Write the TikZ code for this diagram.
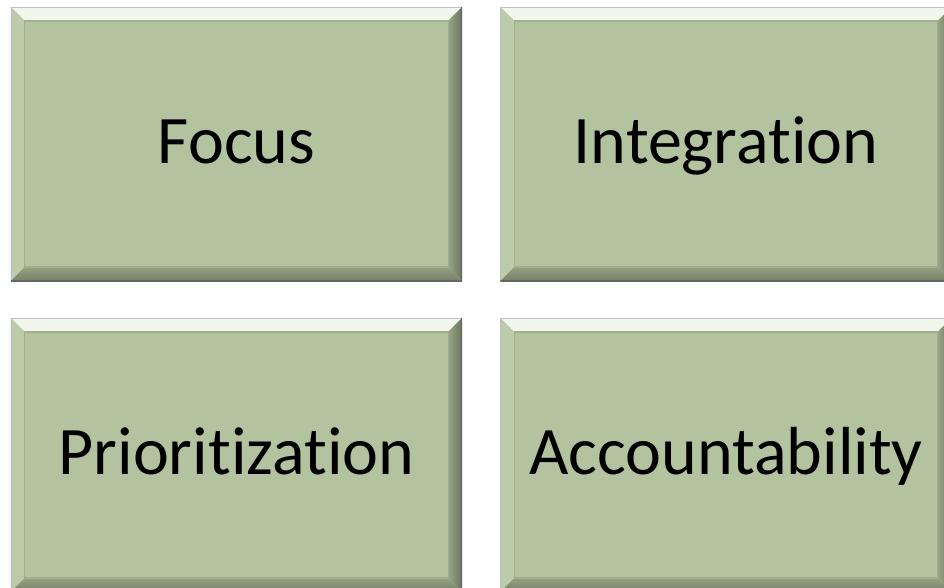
\documentclass[tikz,border=0pt]{standalone}
\usepackage{fontspec}
\setmainfont{Carlito}[Ligatures={NoCommon}]
\usepackage{tikz}
\usetikzlibrary{positioning}

\definecolor{boxgreen}{RGB}{179,195,159}
\definecolor{bevtop}{RGB}{214,228,196}
\definecolor{bevleft}{RGB}{188,203,170}
\definecolor{bevright}{RGB}{152,166,135}
\definecolor{bevbottom}{RGB}{148,161,131}
\definecolor{innerline}{RGB}{160,176,140}

\begin{document}
\begin{tikzpicture}[x=0.75pt,y=-0.75pt,
	box/.style={rectangle, inner sep=0pt, fill=boxgreen,
		minimum width=338.5pt, minimum height=205.5pt,
		text height=40pt, text depth=10.75pt,
		font=\fontsize{51}{60}\selectfont,
		path picture={
			\fill[top color=white!70!bevtop, bottom color=bevtop]
				(path picture bounding box.north west) -- (path picture bounding box.north east)
				-- ([shift={(-10.5pt,-10.5pt)}]path picture bounding box.north east)
				-- ([shift={(10.5pt,-10.5pt)}]path picture bounding box.north west) -- cycle;
			\fill[bevleft]
				(path picture bounding box.north west)
				-- ([shift={(10.5pt,-10.5pt)}]path picture bounding box.north west)
				-- ([shift={(10.5pt,10.5pt)}]path picture bounding box.south west)
				-- (path picture bounding box.south west) -- cycle;
			\fill[left color=bevright, right color=bevright!70!black]
				(path picture bounding box.north east)
				-- ([shift={(-10.5pt,-10.5pt)}]path picture bounding box.north east)
				-- ([shift={(-10.5pt,10.5pt)}]path picture bounding box.south east)
				-- (path picture bounding box.south east) -- cycle;
			\fill[top color=bevbottom, bottom color=bevbottom!80!black]
				(path picture bounding box.south west)
				-- ([shift={(10.5pt,10.5pt)}]path picture bounding box.south west)
				-- ([shift={(-10.5pt,10.5pt)}]path picture bounding box.south east)
				-- (path picture bounding box.south east) -- cycle;
			\draw[innerline, line width=0.8pt]
				([shift={(10.5pt,-10.5pt)}]path picture bounding box.north west)
				rectangle ([shift={(-10.5pt,10.5pt)}]path picture bounding box.south east);
			\draw[black!25, line width=1.5pt]
				(path picture bounding box.south west) -- (path picture bounding box.north west)
				-- (path picture bounding box.north east);
			\draw[black!60, line width=1.5pt]
				(path picture bounding box.north east) -- (path picture bounding box.south east)
				-- (path picture bounding box.south west);
		}}]
	\useasboundingbox (0,0) rectangle (944,587);

	\node[box] (focus) at (236.5,144) {Focus};
	\node[box] (integration) at (726,144) {Integration};
	\node[box] (prioritization) at (236.5,455) {Prioritization};
	\node[box] (accountability) at (726,455) {Accountability};
\end{tikzpicture}
\end{document}
